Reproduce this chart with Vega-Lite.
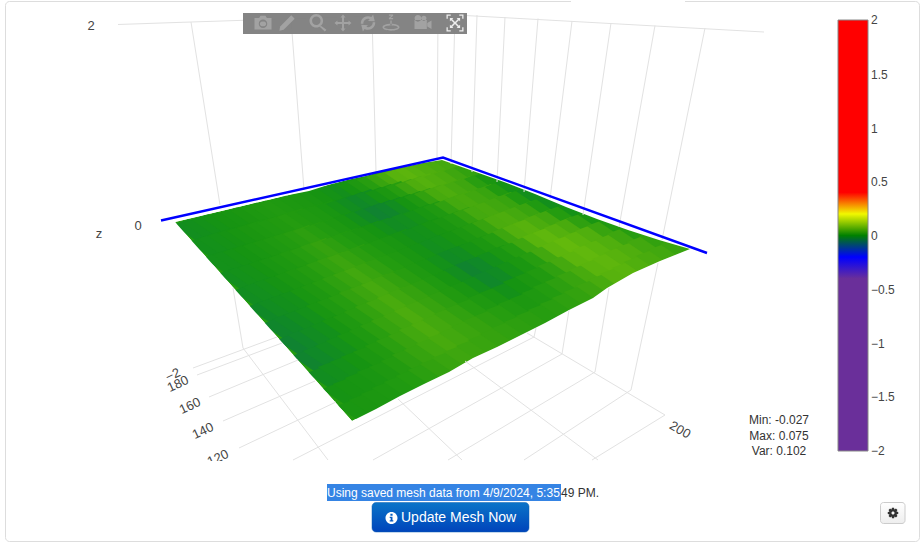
{"$schema":"https://vega.github.io/schema/vega-lite/v6.json","width":923,"height":542,"padding":0,"autosize":{"type":"none"},"background":"white","config":{"view":{"stroke":null},"font":"Liberation Sans"},"projection":{"type":"identity","scale":1,"translate":[0,0]},"layer":[
{"encoding":{"x":{"field":"x","type":"quantitative","scale":{"domain":[0,923],"nice":false,"zero":false},"axis":null},"y":{"field":"y","type":"quantitative","scale":{"domain":[542,0],"nice":false,"zero":false},"axis":null}},"layer":[
{"data":{"values":[{"x":5.5,"x2":919.5,"y":1.5,"y2":541.5}]},"mark":{"type":"rect","fill":"white","stroke":"#dddddd","strokeWidth":1,"cornerRadius":4},"encoding":{"x2":{"field":"x2"},"y2":{"field":"y2"}}},
{"data":{"values":[{"x":571,"x2":685,"y":0,"y2":3}]},"mark":{"type":"rect","fill":"white"},"encoding":{"x2":{"field":"x2"},"y2":{"field":"y2"}}}
]},
{"data":{"values":[{"g":{"type":"Polygon","coordinates":[[[175,222],[289,195],[347,180],[385,170],[442,160],[566,207],[690,249],[633,273],[473,358],[352,421],[175,222]]]}}]},"mark":{"type":"geoshape","fill":"#249c10","stroke":null},"encoding":{"shape":{"field":"g","type":"geojson"}}},
{"encoding":{"x":{"field":"x","type":"quantitative","axis":null},"y":{"field":"y","type":"quantitative","axis":null}},"layer":[
{"data":{"values":[
{"x":187,"y":229,"z":-0.009},{"x":197,"y":227,"z":-0.007},{"x":206,"y":224,"z":-0.004},{"x":216,"y":222,"z":-0.002},{"x":226,"y":220,"z":0.001},{"x":235,"y":217,"z":0.003},{"x":245,"y":215,"z":0.006},{"x":255,"y":212,"z":0.009},{"x":264,"y":210,"z":0.012},{"x":274,"y":208,"z":0.015},{"x":284,"y":205,"z":0.013},{"x":293,"y":203,"z":0.01},{"x":303,"y":201,"z":0.008},{"x":313,"y":198,"z":0.005},{"x":322,"y":196,"z":0.001},{"x":332,"y":193,"z":-0.003},{"x":342,"y":191,"z":-0.007},{"x":351,"y":189,"z":0},{"x":361,"y":186,"z":0.011},{"x":371,"y":184,"z":0.022},{"x":380,"y":181,"z":0.035},{"x":390,"y":179,"z":0.048},{"x":399,"y":177,"z":0.062},{"x":409,"y":174,"z":0.065},{"x":419,"y":172,"z":0.06},{"x":428,"y":170,"z":0.055},{"x":438,"y":167,"z":0.05},{"x":448,"y":165,"z":0.045},
{"x":202,"y":246,"z":-0.006},{"x":212,"y":243,"z":-0.005},{"x":222,"y":240,"z":-0.003},{"x":232,"y":237,"z":-0.001},{"x":241,"y":235,"z":0.002},{"x":251,"y":232,"z":0.006},{"x":261,"y":229,"z":0.009},{"x":271,"y":227,"z":0.013},{"x":281,"y":224,"z":0.016},{"x":291,"y":221,"z":0.02},{"x":300,"y":218,"z":0.016},{"x":310,"y":216,"z":0.012},{"x":320,"y":213,"z":0.009},{"x":330,"y":210,"z":0.004},{"x":340,"y":208,"z":-0.003},{"x":350,"y":205,"z":-0.01},{"x":360,"y":202,"z":-0.016},{"x":369,"y":199,"z":-0.011},{"x":379,"y":197,"z":-0.001},{"x":389,"y":194,"z":0.008},{"x":399,"y":191,"z":0.021},{"x":409,"y":189,"z":0.038},{"x":419,"y":186,"z":0.054},{"x":428,"y":183,"z":0.059},{"x":438,"y":181,"z":0.055},{"x":448,"y":178,"z":0.05},{"x":458,"y":175,"z":0.04},{"x":468,"y":172,"z":0.03},
{"x":217,"y":262,"z":-0.005},{"x":227,"y":259,"z":-0.004},{"x":237,"y":256,"z":-0.002},{"x":247,"y":253,"z":0},{"x":257,"y":250,"z":0.004},{"x":267,"y":247,"z":0.008},{"x":277,"y":244,"z":0.013},{"x":287,"y":241,"z":0.017},{"x":297,"y":238,"z":0.022},{"x":307,"y":235,"z":0.026},{"x":318,"y":232,"z":0.021},{"x":328,"y":229,"z":0.015},{"x":338,"y":226,"z":0.01},{"x":348,"y":222,"z":0.003},{"x":358,"y":219,"z":-0.006},{"x":368,"y":216,"z":-0.015},{"x":378,"y":213,"z":-0.023},{"x":388,"y":210,"z":-0.019},{"x":398,"y":207,"z":-0.01},{"x":408,"y":204,"z":0},{"x":418,"y":201,"z":0.012},{"x":428,"y":198,"z":0.03},{"x":438,"y":195,"z":0.048},{"x":448,"y":192,"z":0.053},{"x":458,"y":189,"z":0.046},{"x":468,"y":186,"z":0.04},{"x":478,"y":183,"z":0.023},{"x":489,"y":180,"z":0.006},
{"x":232,"y":278,"z":-0.008},{"x":242,"y":275,"z":-0.005},{"x":252,"y":272,"z":-0.003},{"x":263,"y":268,"z":0},{"x":273,"y":265,"z":0.005},{"x":283,"y":262,"z":0.01},{"x":293,"y":258,"z":0.016},{"x":304,"y":255,"z":0.021},{"x":314,"y":251,"z":0.027},{"x":324,"y":248,"z":0.032},{"x":335,"y":245,"z":0.026},{"x":345,"y":241,"z":0.019},{"x":355,"y":238,"z":0.012},{"x":365,"y":235,"z":0.006},{"x":376,"y":231,"z":0},{"x":386,"y":228,"z":-0.006},{"x":396,"y":225,"z":-0.012},{"x":406,"y":221,"z":-0.009},{"x":417,"y":218,"z":-0.003},{"x":427,"y":214,"z":0.004},{"x":437,"y":211,"z":0.013},{"x":448,"y":208,"z":0.029},{"x":458,"y":204,"z":0.045},{"x":468,"y":201,"z":0.048},{"x":478,"y":198,"z":0.042},{"x":489,"y":194,"z":0.035},{"x":499,"y":191,"z":0.016},{"x":509,"y":187,"z":-0.003},
{"x":247,"y":295,"z":-0.011},{"x":257,"y":291,"z":-0.008},{"x":268,"y":287,"z":-0.005},{"x":278,"y":284,"z":-0.001},{"x":289,"y":280,"z":0.005},{"x":299,"y":276,"z":0.011},{"x":310,"y":273,"z":0.018},{"x":320,"y":269,"z":0.025},{"x":331,"y":265,"z":0.031},{"x":341,"y":262,"z":0.038},{"x":352,"y":258,"z":0.031},{"x":362,"y":254,"z":0.024},{"x":373,"y":251,"z":0.017},{"x":383,"y":247,"z":0.01},{"x":394,"y":243,"z":0.005},{"x":404,"y":239,"z":-0.001},{"x":415,"y":236,"z":-0.006},{"x":425,"y":232,"z":-0.004},{"x":435,"y":228,"z":0.001},{"x":446,"y":225,"z":0.006},{"x":456,"y":221,"z":0.015},{"x":467,"y":217,"z":0.03},{"x":477,"y":214,"z":0.045},{"x":488,"y":210,"z":0.048},{"x":498,"y":206,"z":0.042},{"x":509,"y":202,"z":0.035},{"x":519,"y":199,"z":0.014},{"x":530,"y":195,"z":-0.007},
{"x":261,"y":311,"z":-0.015},{"x":272,"y":307,"z":-0.011},{"x":283,"y":303,"z":-0.007},{"x":294,"y":299,"z":-0.004},{"x":304,"y":295,"z":0.004},{"x":315,"y":291,"z":0.011},{"x":326,"y":287,"z":0.02},{"x":336,"y":283,"z":0.027},{"x":347,"y":279,"z":0.035},{"x":358,"y":275,"z":0.043},{"x":368,"y":271,"z":0.035},{"x":379,"y":267,"z":0.027},{"x":390,"y":263,"z":0.019},{"x":401,"y":259,"z":0.012},{"x":411,"y":255,"z":0.005},{"x":422,"y":251,"z":-0.002},{"x":433,"y":247,"z":-0.008},{"x":443,"y":243,"z":-0.005},{"x":454,"y":239,"z":0.001},{"x":465,"y":235,"z":0.008},{"x":475,"y":231,"z":0.018},{"x":486,"y":227,"z":0.034},{"x":497,"y":223,"z":0.051},{"x":508,"y":219,"z":0.053},{"x":518,"y":215,"z":0.045},{"x":529,"y":211,"z":0.036},{"x":540,"y":207,"z":0.014},{"x":550,"y":203,"z":-0.007},
{"x":276,"y":328,"z":-0.019},{"x":287,"y":323,"z":-0.015},{"x":298,"y":319,"z":-0.01},{"x":309,"y":315,"z":-0.005},{"x":320,"y":310,"z":0.004},{"x":331,"y":306,"z":0.012},{"x":342,"y":302,"z":0.021},{"x":353,"y":297,"z":0.03},{"x":364,"y":293,"z":0.038},{"x":375,"y":289,"z":0.047},{"x":385,"y":284,"z":0.039},{"x":396,"y":280,"z":0.03},{"x":407,"y":276,"z":0.022},{"x":418,"y":271,"z":0.013},{"x":429,"y":267,"z":0.004},{"x":440,"y":263,"z":-0.005},{"x":451,"y":258,"z":-0.013},{"x":462,"y":254,"z":-0.01},{"x":473,"y":250,"z":-0.001},{"x":484,"y":245,"z":0.008},{"x":495,"y":241,"z":0.02},{"x":506,"y":236,"z":0.039},{"x":516,"y":232,"z":0.058},{"x":527,"y":228,"z":0.061},{"x":538,"y":223,"z":0.051},{"x":549,"y":219,"z":0.042},{"x":560,"y":215,"z":0.02},{"x":571,"y":210,"z":-0.003},
{"x":291,"y":344,"z":-0.023},{"x":302,"y":339,"z":-0.017},{"x":313,"y":335,"z":-0.012},{"x":325,"y":330,"z":-0.006},{"x":336,"y":325,"z":0.003},{"x":347,"y":321,"z":0.012},{"x":358,"y":316,"z":0.022},{"x":369,"y":311,"z":0.031},{"x":380,"y":307,"z":0.041},{"x":391,"y":302,"z":0.05},{"x":402,"y":297,"z":0.041},{"x":413,"y":293,"z":0.032},{"x":425,"y":288,"z":0.024},{"x":436,"y":283,"z":0.014},{"x":447,"y":279,"z":0.002},{"x":458,"y":274,"z":-0.009},{"x":469,"y":269,"z":-0.021},{"x":480,"y":265,"z":-0.016},{"x":491,"y":260,"z":-0.006},{"x":502,"y":255,"z":0.005},{"x":514,"y":251,"z":0.019},{"x":525,"y":246,"z":0.041},{"x":536,"y":241,"z":0.063},{"x":547,"y":237,"z":0.068},{"x":558,"y":232,"z":0.059},{"x":569,"y":227,"z":0.05},{"x":580,"y":223,"z":0.028},{"x":591,"y":218,"z":0.005},
{"x":306,"y":360,"z":-0.021},{"x":317,"y":355,"z":-0.016},{"x":329,"y":350,"z":-0.01},{"x":340,"y":345,"z":-0.005},{"x":351,"y":340,"z":0.004},{"x":363,"y":335,"z":0.013},{"x":374,"y":330,"z":0.023},{"x":385,"y":325,"z":0.033},{"x":397,"y":320,"z":0.042},{"x":408,"y":315,"z":0.052},{"x":419,"y":310,"z":0.043},{"x":431,"y":305,"z":0.034},{"x":442,"y":300,"z":0.026},{"x":453,"y":295,"z":0.016},{"x":465,"y":290,"z":0.005},{"x":476,"y":285,"z":-0.006},{"x":487,"y":280,"z":-0.017},{"x":499,"y":275,"z":-0.013},{"x":510,"y":270,"z":-0.003},{"x":521,"y":265,"z":0.007},{"x":533,"y":260,"z":0.021},{"x":544,"y":255,"z":0.043},{"x":555,"y":250,"z":0.065},{"x":567,"y":245,"z":0.071},{"x":578,"y":240,"z":0.063},{"x":589,"y":235,"z":0.056},{"x":601,"y":230,"z":0.035},{"x":612,"y":225,"z":0.014},
{"x":321,"y":377,"z":-0.01},{"x":332,"y":371,"z":-0.007},{"x":344,"y":366,"z":-0.004},{"x":355,"y":361,"z":0},{"x":367,"y":356,"z":0.008},{"x":379,"y":350,"z":0.016},{"x":390,"y":345,"z":0.025},{"x":402,"y":340,"z":0.034},{"x":413,"y":334,"z":0.043},{"x":425,"y":329,"z":0.052},{"x":436,"y":324,"z":0.044},{"x":448,"y":318,"z":0.037},{"x":459,"y":313,"z":0.029},{"x":471,"y":308,"z":0.021},{"x":482,"y":302,"z":0.013},{"x":494,"y":297,"z":0.005},{"x":506,"y":292,"z":-0.004},{"x":517,"y":286,"z":0},{"x":529,"y":281,"z":0.008},{"x":540,"y":276,"z":0.016},{"x":552,"y":270,"z":0.028},{"x":563,"y":265,"z":0.046},{"x":575,"y":260,"z":0.065},{"x":586,"y":254,"z":0.069},{"x":598,"y":249,"z":0.063},{"x":609,"y":244,"z":0.056},{"x":621,"y":238,"z":0.039},{"x":633,"y":233,"z":0.022},
{"x":336,"y":393,"z":-0.001},{"x":347,"y":388,"z":0.001},{"x":359,"y":382,"z":0.003},{"x":371,"y":376,"z":0.005},{"x":383,"y":371,"z":0.011},{"x":395,"y":365,"z":0.018},{"x":406,"y":359,"z":0.026},{"x":418,"y":354,"z":0.033},{"x":430,"y":348,"z":0.041},{"x":442,"y":342,"z":0.048},{"x":453,"y":337,"z":0.043},{"x":465,"y":331,"z":0.037},{"x":477,"y":325,"z":0.032},{"x":489,"y":320,"z":0.026},{"x":500,"y":314,"z":0.021},{"x":512,"y":308,"z":0.015},{"x":524,"y":303,"z":0.01},{"x":536,"y":297,"z":0.013},{"x":547,"y":291,"z":0.019},{"x":559,"y":286,"z":0.026},{"x":571,"y":280,"z":0.035},{"x":583,"y":274,"z":0.049},{"x":594,"y":269,"z":0.064},{"x":606,"y":263,"z":0.067},{"x":618,"y":257,"z":0.061},{"x":630,"y":252,"z":0.055},{"x":641,"y":246,"z":0.043},{"x":653,"y":240,"z":0.03},
{"x":351,"y":410,"z":0.005},{"x":363,"y":404,"z":0.006},{"x":375,"y":398,"z":0.008},{"x":386,"y":392,"z":0.01},{"x":398,"y":386,"z":0.014},{"x":410,"y":380,"z":0.019},{"x":422,"y":374,"z":0.025},{"x":434,"y":368,"z":0.03},{"x":446,"y":362,"z":0.035},{"x":458,"y":356,"z":0.04},{"x":470,"y":350,"z":0.037},{"x":482,"y":344,"z":0.035},{"x":494,"y":338,"z":0.032},{"x":506,"y":332,"z":0.029},{"x":518,"y":326,"z":0.026},{"x":530,"y":320,"z":0.024},{"x":542,"y":314,"z":0.021},{"x":554,"y":308,"z":0.023},{"x":566,"y":302,"z":0.027},{"x":578,"y":296,"z":0.031},{"x":590,"y":290,"z":0.038},{"x":602,"y":284,"z":0.049},{"x":614,"y":278,"z":0.061},{"x":626,"y":272,"z":0.063},{"x":638,"y":266,"z":0.056},{"x":650,"y":260,"z":0.05},{"x":662,"y":254,"z":0.043},{"x":674,"y":248,"z":0.036}
]},"mark":{"type":"point","filled":true,"opacity":1,"size":400,"strokeWidth":0,"shape":"M2.48,.56L.88,1.16L-1.42,-.4L.18,-1Z"},"encoding":{"fill":{"field":"z","type":"quantitative","legend":null,"scale":{"domain":[-0.027,-0.012,0,0.02,0.04,0.055,0.075],"range":["#127f35","#128c22","#169412","#249c10","#3ea60f","#4fae0e","#68bc0c"]}}}}
]},
{"data":{"values":[{"g":{"type":"Polygon","coordinates":[[[150,140],[725,140],[725,445],[150,445],[150,140]],[[175,222],[352,421],[376,409],[400,396],[424,384],[449,372],[473,358],[497,347],[521,335],[545,323],[569,310],[593,298],[607,288],[633,273],[660,261],[690,249],[659,240],[628,230],[597,219],[566,207],[535,194],[504,182],[473,171],[442,160],[423,163],[404,167],[385,170],[366,176],[347,180],[328,185],[309,191],[289,195],[175,222]]]}}]},"mark":{"type":"geoshape","fill":"white","stroke":null},"encoding":{"shape":{"field":"g","type":"geojson"}}},
{"encoding":{"x":{"field":"x","type":"quantitative","axis":null},"y":{"field":"y","type":"quantitative","axis":null}},"layer":[
{"data":{"values":[
{"g":"t","o":0,"x":118,"y":24.5},{"g":"t","o":1,"x":191,"y":22},{"g":"t","o":2,"x":438,"y":14},{"g":"t","o":3,"x":764,"y":32},
{"g":"v1","o":0,"x":191,"y":22},{"g":"v1","o":1,"x":220,"y":205},
{"g":"v1b","o":0,"x":233,"y":288},{"g":"v1b","o":1,"x":243,"y":348},
{"g":"v2","o":0,"x":291,"y":19},{"g":"v2","o":1,"x":304,"y":190},
{"g":"v3","o":0,"x":372,"y":16},{"g":"v3","o":1,"x":376,"y":172},
{"g":"v4","o":0,"x":438,"y":14},{"g":"v4","o":1,"x":437,"y":160},
{"g":"v5","o":0,"x":455,"y":15},{"g":"v5","o":1,"x":451,"y":164},
{"g":"v6","o":0,"x":477,"y":15},{"g":"v6","o":1,"x":472,"y":172},
{"g":"v7","o":0,"x":505,"y":17},{"g":"v7","o":1,"x":497,"y":182},
{"g":"v8","o":0,"x":538,"y":18.5},{"g":"v8","o":1,"x":524,"y":192},
{"g":"v9","o":0,"x":572,"y":21},{"g":"v9","o":1,"x":550,"y":199},
{"g":"v9b","o":0,"x":536,"y":328},{"g":"v9b","o":1,"x":534,"y":337},
{"g":"v10","o":0,"x":611,"y":23},{"g":"v10","o":1,"x":583,"y":215},
{"g":"v10b","o":0,"x":569,"y":310},{"g":"v10b","o":1,"x":562,"y":354},
{"g":"v11","o":0,"x":655,"y":25.5},{"g":"v11","o":1,"x":619,"y":227},
{"g":"v11b","o":0,"x":609,"y":288},{"g":"v11b","o":1,"x":595,"y":372},
{"g":"v12","o":0,"x":705,"y":28},{"g":"v12","o":1,"x":662,"y":240},
{"g":"v12b","o":0,"x":658,"y":263},{"g":"v12b","o":1,"x":631,"y":390},
{"g":"a1","o":0,"x":193,"y":368},{"g":"a1","o":1,"x":277,"y":337},
{"g":"a2","o":0,"x":197,"y":375},{"g":"a2","o":1,"x":282,"y":343},
{"g":"a3","o":0,"x":209,"y":397},{"g":"a3","o":1,"x":298,"y":360},
{"g":"a4","o":0,"x":223,"y":421},{"g":"a4","o":1,"x":315,"y":381},
{"g":"a5","o":0,"x":239,"y":448},{"g":"a5","o":1,"x":336,"y":402},
{"g":"a6","o":0,"x":293,"y":460},{"g":"a6","o":1,"x":534,"y":337},
{"g":"a7","o":0,"x":373,"y":460},{"g":"a7","o":1,"x":562,"y":354},
{"g":"a8","o":0,"x":448,"y":460},{"g":"a8","o":1,"x":595,"y":372},
{"g":"a9","o":0,"x":524,"y":460},{"g":"a9","o":1,"x":631,"y":390},
{"g":"a10","o":0,"x":592,"y":460},{"g":"a10","o":1,"x":665,"y":415},
{"g":"b1","o":0,"x":243,"y":348},{"g":"b1","o":1,"x":328,"y":460},
{"g":"b2","o":0,"x":398,"y":399},{"g":"b2","o":1,"x":462,"y":460},
{"g":"b3","o":0,"x":465,"y":361},{"g":"b3","o":1,"x":598,"y":460},
{"g":"b4","o":0,"x":527,"y":333},{"g":"b4","o":1,"x":665,"y":415}
]},"mark":{"type":"line","stroke":"#e2e2e2","strokeWidth":1},"encoding":{"detail":{"field":"g"},"order":{"field":"o"}}},
{"data":{"values":[{"o":0,"x":161,"y":220.5},{"o":1,"x":443,"y":157.5},{"o":2,"x":707,"y":253}]},"mark":{"type":"line","stroke":"#0000ff","strokeWidth":2.4},"encoding":{"order":{"field":"o"}}},
{"data":{"values":[{"x":91,"y":26,"t":"2"},{"x":138,"y":226,"t":"0"},{"x":99,"y":234,"t":"z"}]},"mark":{"type":"text","fontSize":13,"fill":"#444444","align":"center","baseline":"middle"},"encoding":{"text":{"field":"t"}}},
{"data":{"values":[{"x":173,"y":375,"t":"−2"},{"x":178,"y":384,"t":"180"},{"x":190,"y":406,"t":"160"},{"x":203,"y":431,"t":"140"},{"x":218,"y":458,"t":"120"}]},"mark":{"type":"text","fontSize":13,"fill":"#444444","align":"center","baseline":"middle","angle":335},"encoding":{"text":{"field":"t"}}},
{"data":{"values":[{"x":680,"y":430,"t":"200"}]},"mark":{"type":"text","fontSize":13,"fill":"#444444","align":"center","baseline":"middle","angle":30},"encoding":{"text":{"field":"t"}}},
{"data":{"values":[{"x":6,"x2":835,"y":461,"y2":483}]},"mark":{"type":"rect","fill":"white"},"encoding":{"x2":{"field":"x2"},"y2":{"field":"y2"}}},
{"data":{"values":[{"x":243,"x2":467,"y":13,"y2":34}]},"mark":{"type":"rect","fill":"#7f7f7f","opacity":0.96},"encoding":{"x2":{"field":"x2"},"y2":{"field":"y2"}}},
{"data":{"values":[{"x":263,"y":23,"i":"camera"},{"x":287,"y":23,"i":"pencil"},{"x":318,"y":22.5,"i":"zoom"},{"x":343,"y":23,"i":"pan"},{"x":368,"y":23,"i":"orbit"},{"x":391,"y":23,"i":"turntable"},{"x":423,"y":23,"i":"video"},{"x":455,"y":23,"i":"autoscale"}]},"mark":{"type":"point","filled":true,"opacity":1,"size":289},"encoding":{"shape":{"field":"i","type":"nominal","legend":null,"scale":{"domain":["camera","pencil","zoom","pan","orbit","turntable","video","autoscale"],"range":["M-1,-.6H-.45L-.3,-.85H.3L.45,-.6H1V.75H-1ZM0,-.4A.5,.5 0 1 0 0,.6A.5,.5 0 1 0 0,-.4ZM0,-.15A.27,.27 0 1 1 0,.35A.27,.27 0 1 1 0,-.15Z","M.5,-.9L.9,-.5L-.4,.8L-.9,.9L-.8,.4Z","M-.2,-1A.8,.8 0 1 0 -.2,.6A.8,.8 0 1 0 -.2,-1ZM-.2,-.7A.5,.5 0 1 1 -.2,.3A.5,.5 0 1 1 -.2,-.7ZM.3,.35L1,.85L.8,1.05L.2,.5Z","M0,-1L.3,-.65H.12V-.12H.65V-.3L1,0L.65,.3V.12H.12V.65H.3L0,1L-.3,.65H-.12V.12H-.65V.3L-1,0L-.65,-.3V-.12H-.12V-.65H-.3Z","M-.85,.1A.85,.85 0 0 1 .4,-.7L.6,-1L.8,-.2L0,-.25L.2,-.45A.55,.55 0 0 0 -.55,.1ZM.85,-.1A.85,.85 0 0 1 -.4,.7L-.6,1L-.8,.2L0,.25L-.2,.45A.55,.55 0 0 0 .55,-.1Z","M-.25,-1H.25V-.85L-.05,-.6H.25V-.45H-.25V-.6L.05,-.85H-.25ZM-.08,-.3H.08V.25H-.08ZM-1,.5A1,.4 0 1 0 1,.5A1,.4 0 1 0 -1,.5ZM-.8,.5A.8,.22 0 1 1 .8,.5A.8,.22 0 1 1 -.8,.5Z","M-1,-.35H.45V.7H-1ZM.5,0L1,-.3V.7L.5,.4ZM-.6,-.95a.4,.4 0 1 0 .01,0ZM.1,-.85a.3,.3 0 1 0 .01,0Z","M-1,-1H-.5V-.85H-.85V-.5H-1ZM.5,-1H1V-.5H.85V-.85H.5ZM-1,.5H-.85V.85H-.5V1H-1ZM.85,.5H1V1H.5V.85H.85ZM-.6,-.6L-.2,-.6L-.32,-.45L0,-.13L.32,-.45L.2,-.6L.6,-.6L.6,-.2L.45,-.32L.13,0L.45,.32L.6,.2L.6,.6L.2,.6L.32,.45L0,.13L-.32,.45L-.2,.6L-.6,.6L-.6,.2L-.45,.32L-.13,0L-.45,-.32L-.6,-.2Z"]}},"fill":{"condition":{"test":"datum.i==='autoscale'","value":"#ededed"},"value":"#a2a2a2"}}},
{"data":{"values":[{"x":779,"y":420,"t":"Min: -0.027"},{"x":779,"y":436,"t":"Max: 0.075"},{"x":779,"y":451,"t":"Var: 0.102"}]},"mark":{"type":"text","fontSize":12,"fill":"#333333","align":"center","baseline":"middle"},"encoding":{"text":{"field":"t"}}},
{"data":{"values":[{"x":327,"x2":561,"y":484,"y2":501}]},"mark":{"type":"rect","fill":"#3584e4"},"encoding":{"x2":{"field":"x2"},"y2":{"field":"y2"}}},
{"data":{"values":[{"x":327,"y":493,"t":"Using saved mesh data from 4/9/2024, 5:35:"}]},"mark":{"type":"text","fontSize":12,"fill":"white","align":"left","baseline":"middle"},"encoding":{"text":{"field":"t"}}},
{"data":{"values":[{"x":561,"y":493,"t":"49 PM."}]},"mark":{"type":"text","fontSize":12,"fill":"#333333","align":"left","baseline":"middle"},"encoding":{"text":{"field":"t"}}},
{"data":{"values":[{"x":372,"x2":529,"y":502.5,"y2":532}]},"mark":{"type":"rect","cornerRadius":4,"stroke":"#0d5fb0","strokeWidth":0.5,"fill":{"gradient":"linear","x1":0,"y1":0,"x2":0,"y2":1,"stops":[{"offset":0,"color":"#0a74c8"},{"offset":1,"color":"#0044bb"}]}},"encoding":{"x2":{"field":"x2"},"y2":{"field":"y2"}}},
{"data":{"values":[{"x":391.5,"y":518}]},"mark":{"type":"point","filled":true,"opacity":1,"fill":"white","size":144,"shape":"M0,-1A1,1 0 1 1 0,1A1,1 0 1 1 0,-1ZM-.18,-.72V-.38H.18V-.72ZM-.3,-.2V.02H-.14V.38H-.3V.58H.3V.38H.16V-.2Z"}},
{"data":{"values":[{"x":401,"y":518,"t":"Update Mesh Now"}]},"mark":{"type":"text","fontSize":14,"fill":"white","align":"left","baseline":"middle"},"encoding":{"text":{"field":"t"}}},
{"data":{"values":[{"x":880.5,"x2":905,"y":502.5,"y2":523.5}]},"mark":{"type":"rect","cornerRadius":3,"stroke":"#cccccc","strokeWidth":1,"fill":{"gradient":"linear","x1":0,"y1":0,"x2":0,"y2":1,"stops":[{"offset":0,"color":"#ffffff"},{"offset":1,"color":"#eeeeee"}]}},"encoding":{"x2":{"field":"x2"},"y2":{"field":"y2"}}},
{"data":{"values":[{"x":893,"y":513}]},"mark":{"type":"point","filled":true,"opacity":1,"fill":"#333333","size":110,"shape":"M-.2,-1H.2L.26,-.68L.566,-.849L.849,-.566L.665,-.297L1,-.2V.2L.68,.26L.849,.566L.566,.849L.297,.665L.2,1H-.2L-.26,.68L-.566,.849L-.849,.566L-.665,.297L-1,.2V-.2L-.68,-.26L-.849,-.566L-.566,-.849L-.297,-.665ZM0,-.3A.3,.3 0 1 0 0,.3A.3,.3 0 1 0 0,-.3Z"}},
{"data":{"values":[{"x":871,"y":20,"t":"2"},{"x":871,"y":75,"t":"1.5"},{"x":871,"y":129,"t":"1"},{"x":871,"y":182,"t":"0.5"},{"x":871,"y":236,"t":"0"},{"x":871,"y":290,"t":"−0.5"},{"x":871,"y":344,"t":"−1"},{"x":871,"y":397,"t":"−1.5"},{"x":871,"y":451,"t":"−2"}]},"mark":{"type":"text","fontSize":12,"fill":"#444444","align":"left","baseline":"middle"},"encoding":{"text":{"field":"t"}}},
{"data":{"values":[{"x":-10,"y":-10,"zv":0}]},"mark":{"type":"point","filled":true,"size":0,"opacity":1},"encoding":{"color":{"field":"zv","type":"quantitative","scale":{"domain":[-2,-0.375,-0.2,-0.08,0,0.12,0.21,0.35,2],"range":["#6a2f9a","#6a2f9a","#0000ff","#005050","#008000","#88c000","#ffff00","#ff0000","#ff0000"]},"legend":{"orient":"none","legendX":838,"legendY":20,"title":null,"type":"gradient","direction":"vertical","gradientLength":431,"gradientThickness":30,"gradientStrokeColor":"#888888","gradientStrokeWidth":1,"values":[-2,2],"labelExpr":"''"}}}}
]}
]}
